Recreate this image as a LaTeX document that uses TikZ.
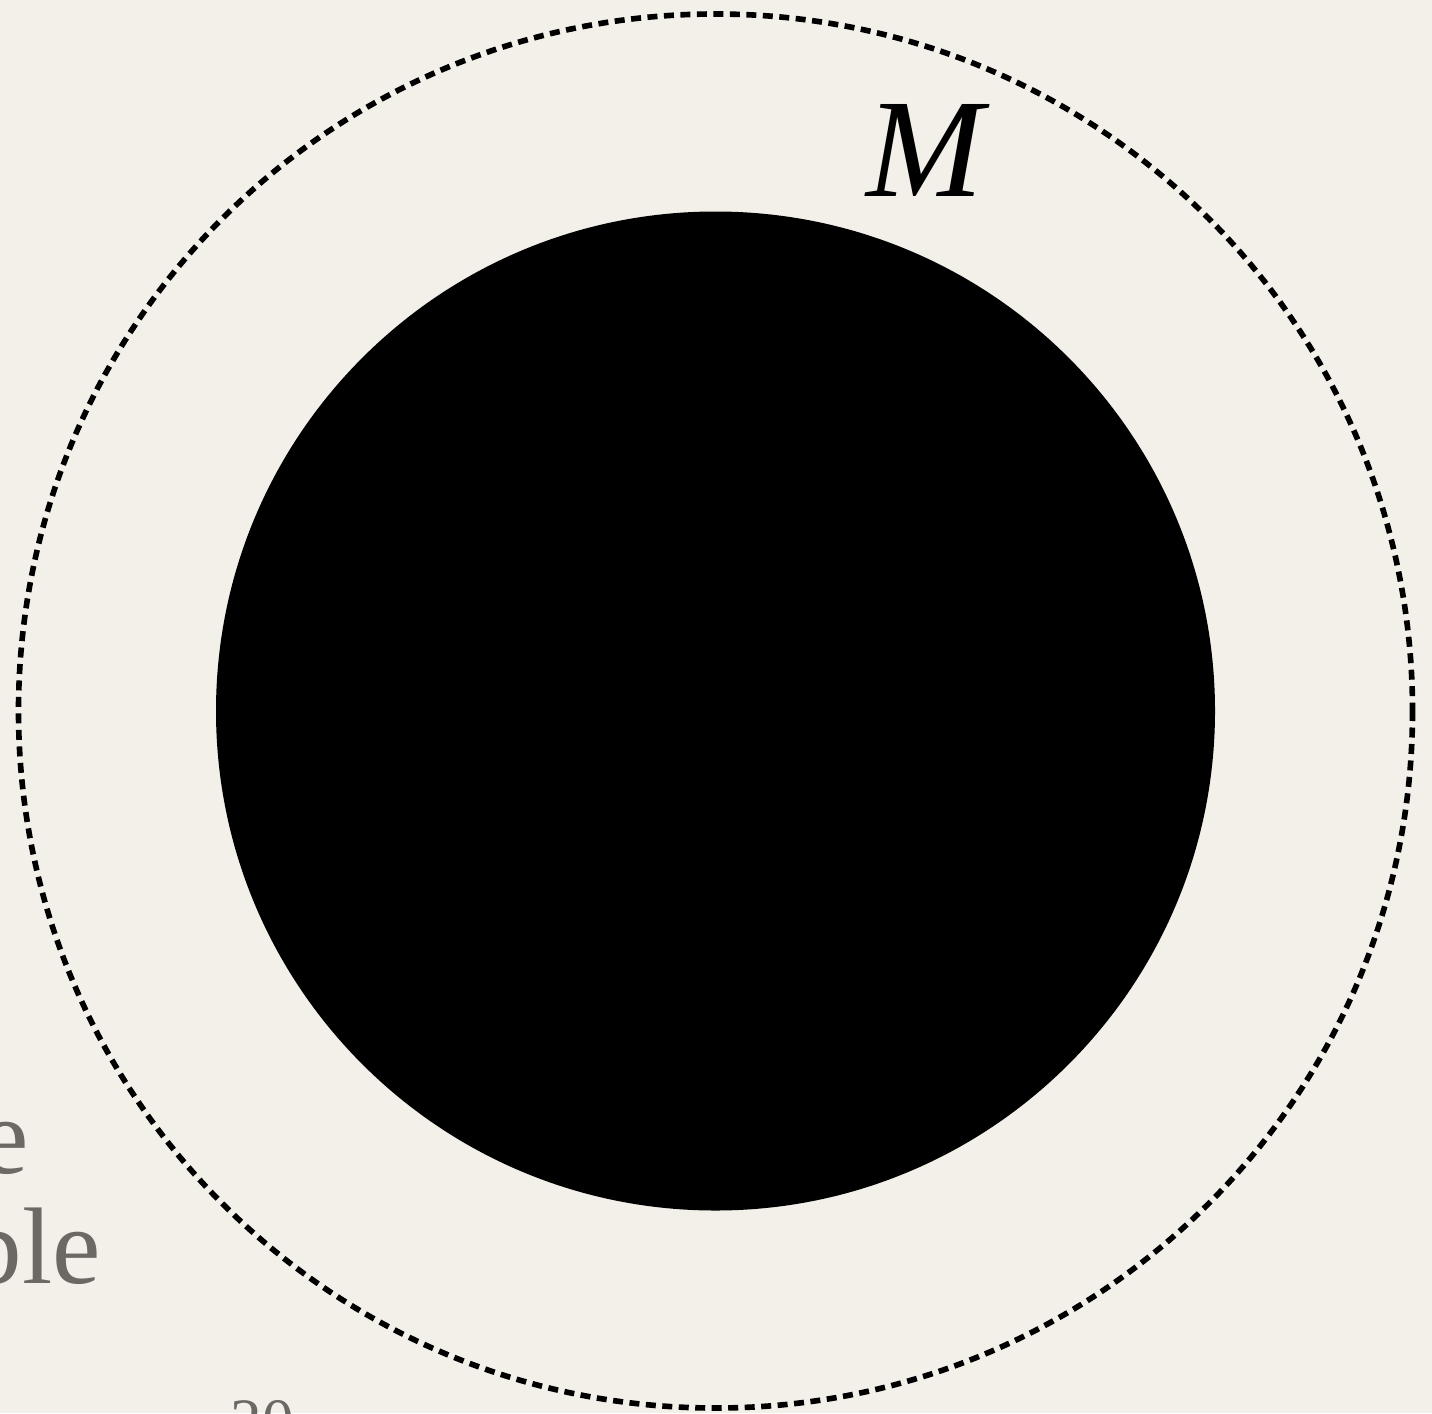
\documentclass[tikz,border=0pt]{standalone}
\usepackage{fontspec}
\setmainfont{Liberation Serif}
\usepackage{tikz}
\usetikzlibrary{positioning}
\definecolor{paper}{RGB}{243,240,234}
\definecolor{slategray}{RGB}{108,104,99}

\begin{document}
\begin{tikzpicture}[
  x=0.02cm, y=-0.02cm,
  horizon/.style={draw=black, line width=3.2pt, dash pattern=on 0.2cm off 0.13cm},
  hole/.style={fill=black},
  slide/.style={text=slategray, inner sep=0pt, font=\fontsize{62}{62}\selectfont},
]
\useasboundingbox (0,0) rectangle (1432,1413);
\clip (0,0) rectangle (1432,1413);
\fill[paper] (0,0) rectangle (1432,1413);

\coordinate (c) at (715.5,711);
\fill[hole] (c) circle[radius=499.5];
\draw[horizon] (c) circle[radius=697];

\node[inner sep=0pt, anchor=base, font=\fontsize{80}{80}\selectfont\itshape] (mass) at (925,196) {M};

% cut-off text of the slide
\node[slide, anchor=base east] (wordA) at (29,1173) {e};
\node[slide, anchor=base east] (wordB) at (101,1283) {ble};
\node[slide, anchor=north, font=\fontsize{36}{36}\selectfont] (page) at (262,1400) {20};
\end{tikzpicture}
\end{document}
